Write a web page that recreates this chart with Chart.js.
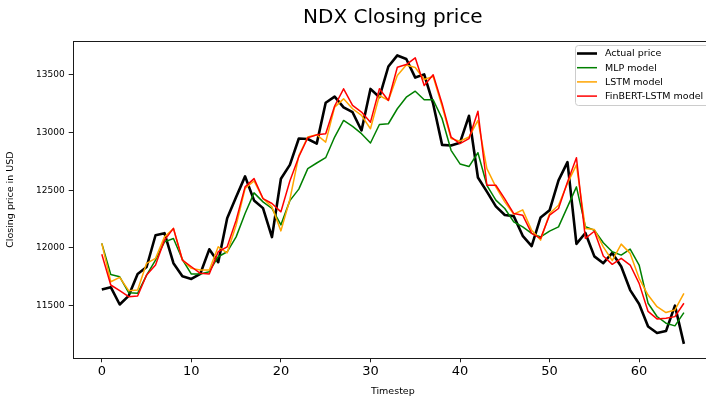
<!DOCTYPE html>
<html><head><meta charset="utf-8">
<script src="https://cdn.jsdelivr.net/npm/chart.js@4/dist/chart.umd.min.js"></script>
<style>
html,body{margin:0;padding:0;overflow:hidden;background:#fff;width:706px;height:400px}
#wrap{position:absolute;left:0;top:0;width:720px;height:400px}
</style>
</head><body>
<div id="wrap"><canvas id="c" width="720" height="400"></canvas></div>
<script>
const timesteps = [0,1,2,3,4,5,6,7,8,9,10,11,12,13,14,15,16,17,18,19,20,21,22,23,24,25,26,27,28,29,30,31,32,33,34,35,36,37,38,39,40,41,42,43,44,45,46,47,48,49,50,51,52,53,54,55,56,57,58,59,60,61,62,63,64,65];
const actualPrice = [11640,11660,11510,11585,11775,11835,12110,12128,11868,11755,11732,11776,11988,11877,12257,12442,12620,12412,12345,12094,12600,12720,12948,12944,12904,13258,13311,13218,13176,13018,13378,13306,13572,13668,13637,13476,13504,13250,12893,12888,12912,13145,12610,12488,12360,12285,12276,12105,12016,12264,12326,12586,12743,12035,12130,11927,11868,11957,11840,11635,11515,11320,11263,11280,11500,11169];
const mlpModel = [12040,11770,11750,11612,11607,11765,11895,12053,12082,11900,11774,11774,11794,11924,11967,12096,12298,12477,12399,12342,12200,12410,12510,12687,12736,12782,12961,13105,13053,12990,12909,13070,13076,13206,13306,13358,13284,13284,13120,12846,12728,12705,12825,12543,12414,12342,12226,12183,12126,12096,12146,12183,12356,12529,12185,12154,12045,11967,11938,11990,11852,11521,11406,11348,11325,11440];
const lstmModel = [12040,11707,11745,11630,11636,11867,11910,12096,12169,11895,11823,11809,11809,12010,11958,12197,12515,12580,12428,12356,12148,12420,12800,12961,12981,12917,13220,13292,13206,13148,13033,13321,13278,13494,13585,13563,13460,13485,13228,12947,12925,12961,13105,12687,12529,12399,12292,12330,12154,12068,12298,12370,12560,12720,12169,12160,12010,11890,12033,11953,11737,11592,11491,11440,11463,11607];
const finbertLstmModel = [11945,11679,11630,11578,11584,11765,11852,12068,12170,11895,11837,11780,11774,11967,12010,12241,12529,12601,12428,12385,12313,12580,12790,12955,12980,12990,13230,13379,13235,13177,13090,13379,13278,13566,13589,13647,13408,13500,13250,12961,12904,12947,13185,12543,12543,12425,12298,12284,12126,12083,12284,12342,12572,12782,12083,12145,11930,11858,11910,11852,11693,11450,11385,11391,11405,11521];
const seriesLabels = ['Actual price','MLP model','LSTM model','FinBERT-LSTM model'];
const seriesColors = ['#000000','#008000','#FFA500','#FF0000'];
const seriesWidths = [2.6,1.5,1.5,1.5];
const xTickValues = [0,10,20,30,40,50,60];
const yTickValues = [11500,12000,12500,13000,13500];
const chartTitle = 'NDX Closing price';
const xAxisTitle = 'Timestep';
const yAxisTitle = 'Closing price in USD';

const FONT = '"DejaVu Sans", sans-serif';
const allSeries = [actualPrice, mlpModel, lstmModel, finbertLstmModel];

const datasets = allSeries.map((vals, k) => ({
  label: seriesLabels[k],
  data: timesteps.map((t, i) => ({x: t, y: vals[i]})),
  borderColor: seriesColors[k],
  backgroundColor: seriesColors[k],
  borderWidth: seriesWidths[k],
  pointRadius: 0,
  pointHoverRadius: 0,
  tension: 0,
  fill: false,
  borderJoinStyle: 'round',
  order: 3 - k
}));

const framePlugin = {
  id: 'frameLegend',
  afterDatasetsDraw(chart) {
    const {ctx, chartArea: a} = chart;
    ctx.save();
    ctx.strokeStyle = '#1a1a1a';
    ctx.lineWidth = 1;
    ctx.strokeRect(Math.round(a.left) + 0.5, Math.round(a.top) + 0.5, Math.round(a.right - a.left), Math.round(a.bottom - a.top));
    ctx.restore();
  },
  afterDraw(chart) {
    const ctx = chart.ctx;
    const bx = 575.5, by = 45.5, bw = 134, bh = 60, r = 3;
    ctx.save();
    ctx.beginPath();
    ctx.moveTo(bx + r, by);
    ctx.lineTo(bx + bw - r, by); ctx.quadraticCurveTo(bx + bw, by, bx + bw, by + r);
    ctx.lineTo(bx + bw, by + bh - r); ctx.quadraticCurveTo(bx + bw, by + bh, bx + bw - r, by + bh);
    ctx.lineTo(bx + r, by + bh); ctx.quadraticCurveTo(bx, by + bh, bx, by + bh - r);
    ctx.lineTo(bx, by + r); ctx.quadraticCurveTo(bx, by, bx + r, by);
    ctx.closePath();
    ctx.fillStyle = 'rgba(255,255,255,0.8)';
    ctx.fill();
    ctx.strokeStyle = '#cccccc';
    ctx.lineWidth = 1;
    ctx.stroke();
    ctx.font = '9.5px ' + FONT;
    ctx.textBaseline = 'middle';
    ctx.textAlign = 'left';
    chart.data.datasets.forEach((ds, k) => {
      const yy = 53.5 + k * 14.2;
      ctx.beginPath();
      ctx.strokeStyle = ds.borderColor;
      ctx.lineWidth = ds.borderWidth;
      ctx.moveTo(577, yy); ctx.lineTo(597, yy);
      ctx.stroke();
      ctx.fillStyle = '#000';
      ctx.fillText(ds.label, 605, yy + 0.5);
    });
    ctx.restore();
  }
};

new Chart(document.getElementById('c'), {
  type: 'line',
  data: {datasets},
  plugins: [framePlugin],
  options: {
    responsive: false,
    animation: false,
    events: [],
    layout: {padding: {left: 0, right: 7, top: 0, bottom: 0}},
    plugins: {
      legend: {display: false},
      tooltip: {enabled: false},
      title: {
        display: true, text: chartTitle, fullSize: false,
        color: '#000', font: {family: FONT, size: 20, weight: 'normal', lineHeight: 1.2},
        padding: {top: 6, bottom: 11}
      }
    },
    scales: {
      x: {
        type: 'linear', min: -3.25, max: 68.25,
        afterFit(s) { s.height = 41.7; },
        afterBuildTicks(s) { s.ticks = xTickValues.map(v => ({value: v})); },
        border: {display: false},
        grid: {display: true, drawOnChartArea: false, drawTicks: true, tickLength: 4, tickColor: '#222', lineWidth: 1},
        ticks: {autoSkip: false, maxRotation: 0, color: '#000', padding: 2, font: {family: FONT, size: 13}, callback: v => String(v)},
        title: {display: true, text: xAxisTitle, color: '#000', font: {family: FONT, size: 9.5}, padding: {top: 0, bottom: 2.5}}
      },
      y: {
        type: 'linear', min: 11044, max: 13793,
        afterFit(s) { s.width = 72.7; },
        afterBuildTicks(s) { s.ticks = yTickValues.map(v => ({value: v})); },
        border: {display: false},
        grid: {display: true, drawOnChartArea: false, drawTicks: true, tickLength: 4, tickColor: '#222', lineWidth: 1},
        ticks: {color: '#000', padding: 4, font: {family: FONT, size: 9}, callback: v => String(v)},
        title: {display: true, text: yAxisTitle, color: '#000', font: {family: FONT, size: 9.5}, padding: {top: 4.5, bottom: 0}}
      }
    }
  }
});
</script>
</body></html>
